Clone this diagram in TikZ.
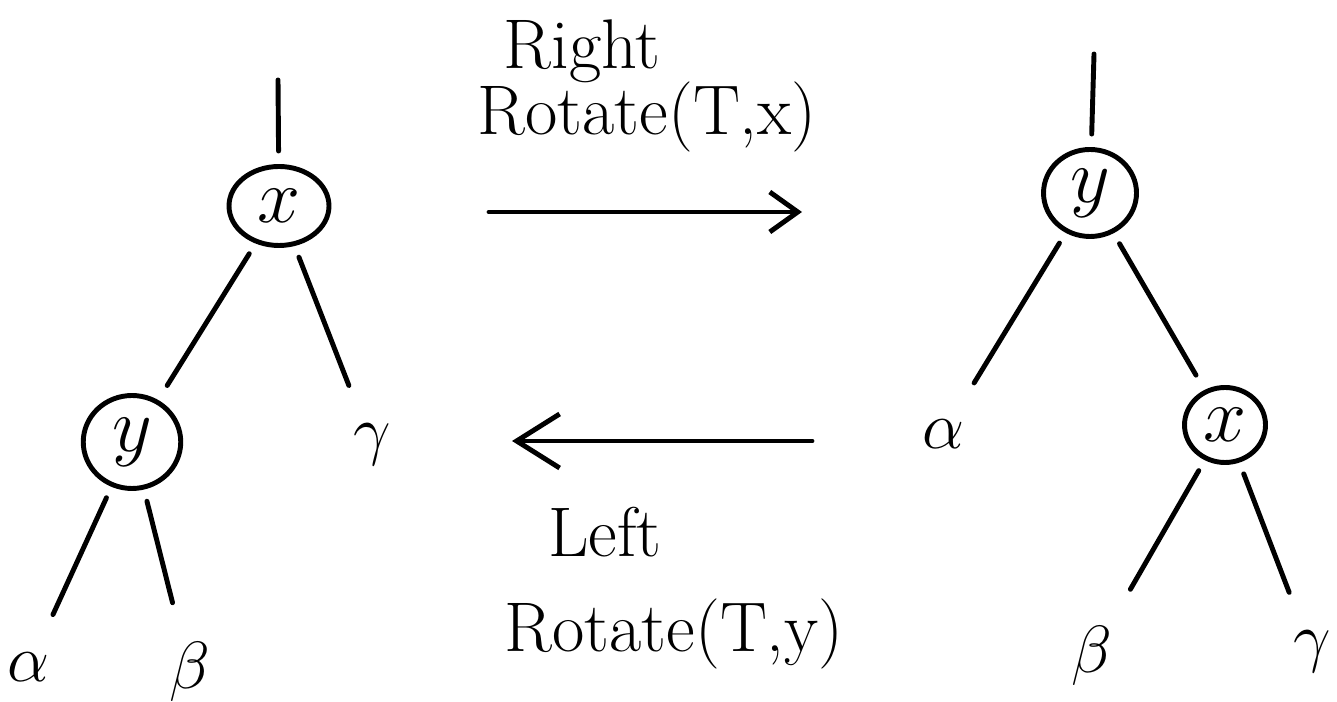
\RequirePackage{fix-cm}
\documentclass[tikz,border=0pt]{standalone}
\usetikzlibrary{positioning,arrows.meta,shapes.geometric}

\begin{document}
\begin{tikzpicture}[
    pen/.style={line width=2.8pt, line cap=round},
    key/.style={ellipse, draw, pen, inner sep=0pt,
        font=\fontsize{44}{48}\selectfont},
    sub/.style={inner sep=0.3cm, font=\fontsize{38}{42}\selectfont},
    link/.style={pen, shorten <=0.24cm, shorten >=0.34cm},
    leaf/.style={pen, shorten <=0.24cm, shorten >=0.5cm},
    stem/.style={pen, shorten >=0.26cm},
    rot/.style 2 args={pen, -{Straight Barb[length=#1, width=#2, line width=2.8pt]}},
    lbl/.style={font=\fontsize{40}{44}\selectfont},
]
\useasboundingbox (0,0) rectangle (26.74,14.04);

% Left tree: x on top, y as left child
\coordinate (topL) at (5.56,12.44);
\node[key, minimum width=2.0cm, minimum height=1.58cm] (xL) at (5.58,9.92) {$x$};
\node[key, minimum width=1.95cm, minimum height=1.86cm] (yL) at (2.64,5.2) {$y$};
\node[sub] (gL) at (7.44,5.14) {$\gamma$};
\node[sub] (aL) at (0.58,0.7) {$\alpha$};
\node[sub] (bL) at (3.8,0.6) {$\beta$};

\draw[stem] (topL) -- (xL);
\draw[link] (xL) -- (yL);
\draw[leaf] (xL) -- (gL);
\draw[leaf] (yL) -- (aL);
\draw[leaf] (yL) -- (bL);

% Right tree: y on top, x as right child
\coordinate (topR) at (21.88,12.96);
\node[key, minimum width=1.86cm, minimum height=1.74cm] (yR) at (21.8,10.18) {$y$};
\node[key, minimum width=1.62cm, minimum height=1.5cm] (xR) at (24.5,5.54) {$x$};
\node[sub] (aR) at (18.86,5.36) {$\alpha$};
\node[sub] (bR) at (21.84,0.92) {$\beta$};
\node[sub] (gR) at (26.24,1.0) {$\gamma$};

\draw[stem] (topR) -- (yR);
\draw[leaf] (yR) -- (aR);
\draw[link] (yR) -- (xR);
\draw[leaf] (xR) -- (bR);
\draw[leaf] (xR) -- (gR);

% Rotation arrows
\coordinate (rgtA) at (9.78,9.8);
\coordinate (rgtB) at (16.04,9.8);
\coordinate (lftA) at (16.24,5.22);
\coordinate (lftB) at (10.24,5.22);
\draw[rot={0.56cm}{0.8cm}] (rgtA) -- (rgtB);
\draw[rot={0.86cm}{1.08cm}] (lftA) -- (lftB);

% Labels
\node[lbl] (rgtT) at (11.64,13.02) {Right};
\node[lbl] (rgtR) at (12.94,11.7) {Rotate(T,x)};
\node[lbl] (lftT) at (12.1,3.4) {Left};
\node[lbl] (lftR) at (13.48,1.36) {Rotate(T,y)};

\end{tikzpicture}
\end{document}
